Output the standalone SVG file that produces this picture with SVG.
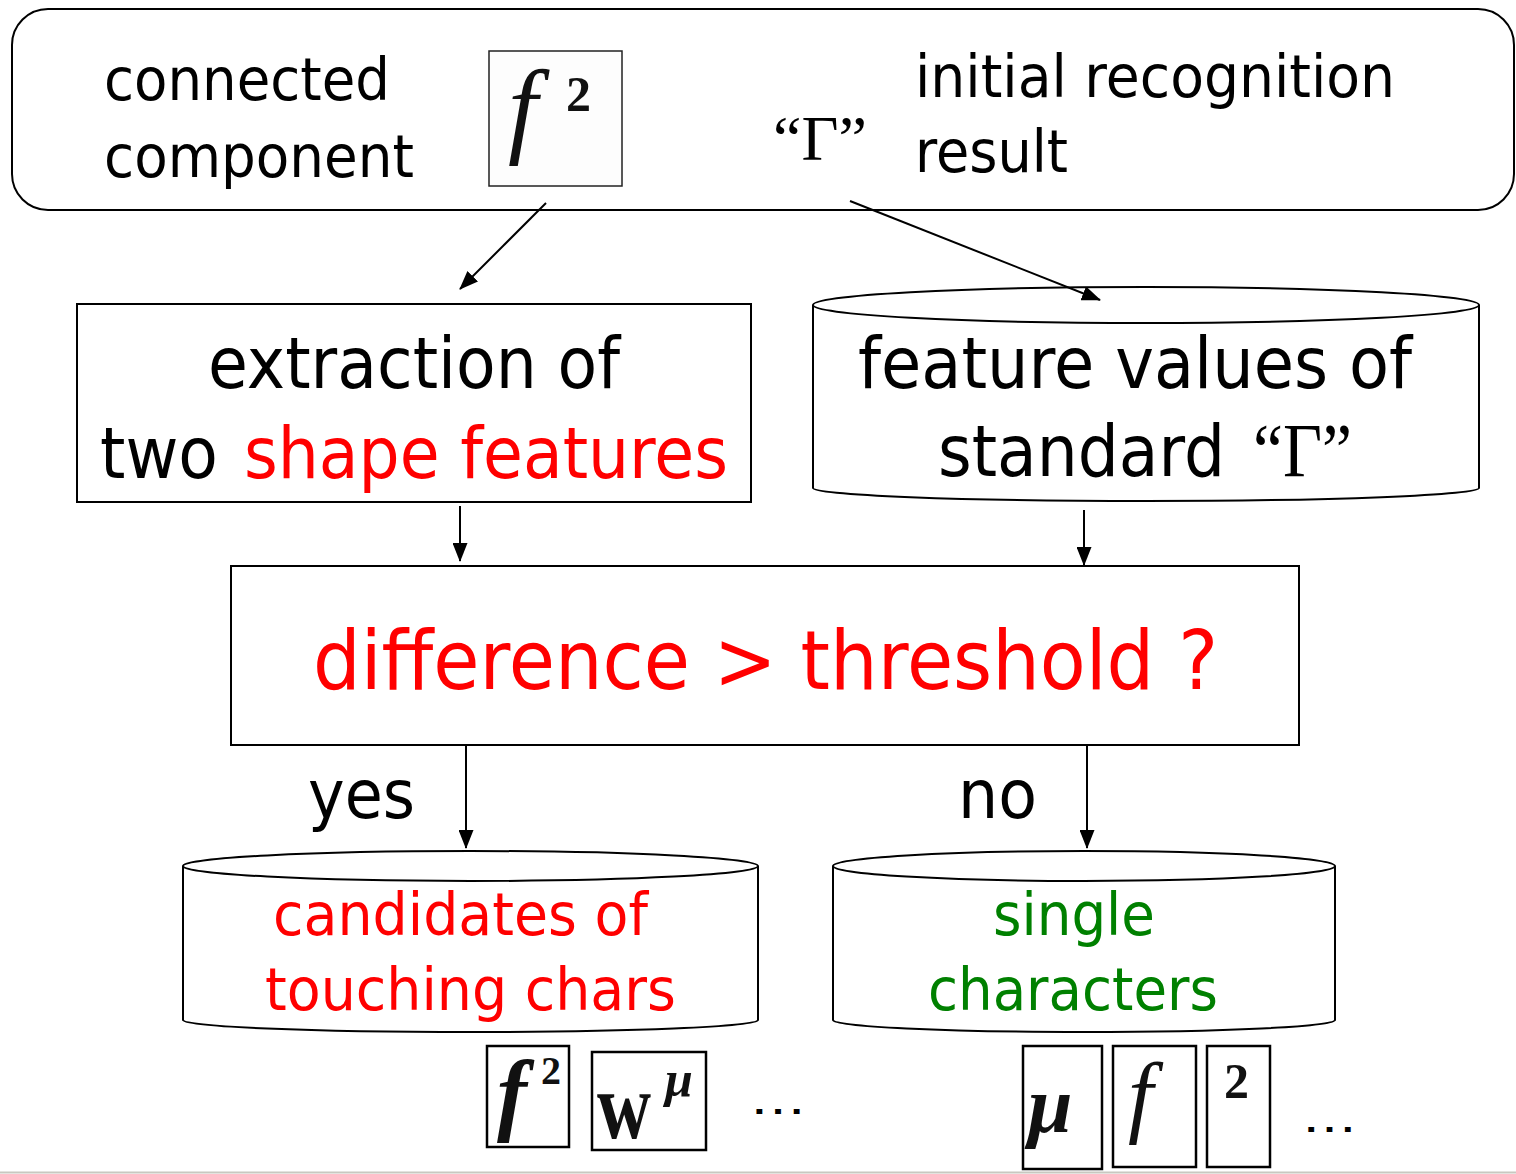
<svg xmlns="http://www.w3.org/2000/svg" width="1516" height="1174" viewBox="0 0 1516 1174">
<defs>
<style>
.box{fill:#fff;stroke:#000;stroke-width:2}
.t{font-family:"DejaVu Sans","Liberation Sans",sans-serif;fill:#000}
.red{fill:#ff0000}
.green{fill:#008000}
.serif{font-family:"Liberation Serif","DejaVu Serif",serif;fill:#000}
.conn{stroke:#000;stroke-width:2;fill:none;marker-end:url(#ah)}
.thumb{fill:#fff;stroke:#000;stroke-width:2.5}
.glyph{font-family:"Liberation Serif","DejaVu Serif",serif;font-style:italic;font-weight:bold;fill:#111}
.thin{font-weight:normal}
.up{font-style:normal}
</style>
<marker id="ah" markerUnits="userSpaceOnUse" markerWidth="19" markerHeight="15" refX="18" refY="7.5" orient="auto">
<path d="M0,0 L19,7.5 L0,15 Z" fill="#000"/>
</marker>
</defs>
<rect width="1516" height="1174" fill="#fff"/>
<line x1="0" y1="1172.5" x2="1516" y2="1172.5" stroke="#c8c8c0" stroke-width="2"/>

<g id="top-box">
<rect class="box" x="12" y="9" width="1502" height="201" rx="36"/>
<text class="t" x="104" y="100" font-size="58" textLength="286" lengthAdjust="spacingAndGlyphs">connected</text>
<text class="t" x="104" y="177" font-size="58" textLength="310" lengthAdjust="spacingAndGlyphs">component</text>
<g id="cc-image">
<rect x="489" y="51" width="133" height="135" fill="#fdfdfd" stroke="#222" stroke-width="1.5"/>
<text class="glyph thin" x="508" y="143" font-size="106" fill="#1a1a1a">f</text>
<text class="glyph up" x="566" y="111" font-size="50" fill="#1a1a1a">2</text>
</g>
<text class="serif" x="773" y="160" font-size="64">“Γ”</text>
<text class="t" x="915" y="97" font-size="58" textLength="480" lengthAdjust="spacingAndGlyphs">initial recognition</text>
<text class="t" x="915" y="172" font-size="58" textLength="153" lengthAdjust="spacingAndGlyphs">result</text>
</g>

<g id="extraction">
<rect class="box" x="77" y="304" width="674" height="198"/>
<text class="t" x="208" y="388" font-size="72" textLength="412" lengthAdjust="spacingAndGlyphs">extraction of</text>
<text class="t" x="100" y="478" font-size="72" textLength="118" lengthAdjust="spacingAndGlyphs">two</text>
<text class="t red" x="244" y="478" font-size="72" textLength="484" lengthAdjust="spacingAndGlyphs">shape features</text>
</g>

<g id="standard-db">
<path class="box" d="M813,305 L813,488 A333,13 0 0 0 1479,488 L1479,305"/>
<ellipse class="box" cx="1146" cy="305" rx="333" ry="18"/>
<text class="t" x="858" y="388" font-size="72" textLength="554" lengthAdjust="spacingAndGlyphs">feature values of</text>
<text class="t" x="938" y="476" font-size="72" textLength="287" lengthAdjust="spacingAndGlyphs">standard</text>
<text class="serif" x="1253" y="476" font-size="76" textLength="99" lengthAdjust="spacingAndGlyphs">“Γ”</text>
</g>

<g id="decision">
<rect class="box" x="231" y="566" width="1068" height="179"/>
<text class="t red" x="313" y="689" font-size="82" textLength="905" lengthAdjust="spacingAndGlyphs" xml:space="preserve">difference &gt; threshold ?</text>
</g>

<g id="touching-db">
<path class="box" d="M183,866 L183,1020 A287.5,12 0 0 0 758,1020 L758,866"/>
<ellipse class="box" cx="470.5" cy="866" rx="287.5" ry="15"/>
<text class="t red" x="273" y="935" font-size="58" textLength="375" lengthAdjust="spacingAndGlyphs">candidates of</text>
<text class="t red" x="265" y="1010" font-size="58" textLength="411" lengthAdjust="spacingAndGlyphs">touching chars</text>
</g>

<g id="single-db">
<path class="box" d="M833,866 L833,1020 A251,12 0 0 0 1335,1020 L1335,866"/>
<ellipse class="box" cx="1084" cy="866" rx="251" ry="15"/>
<text class="t green" x="993" y="935" font-size="58" textLength="162" lengthAdjust="spacingAndGlyphs">single</text>
<text class="t green" x="928" y="1010" font-size="58" textLength="290" lengthAdjust="spacingAndGlyphs">characters</text>
</g>

<g id="labels">
<text class="t" x="308" y="818" font-size="68" textLength="107" lengthAdjust="spacingAndGlyphs">yes</text>
<text class="t" x="958" y="818" font-size="68" textLength="79" lengthAdjust="spacingAndGlyphs">no</text>
</g>

<g id="touching-examples">
<rect class="thumb" x="487" y="1046" width="82" height="101"/>
<text class="glyph" x="497" y="1124" font-size="90">f</text>
<text class="glyph up" x="541" y="1084" font-size="40">2</text>
<rect class="thumb" x="592" y="1052" width="114" height="98"/>
<text class="glyph up" x="597" y="1138" font-size="96" textLength="54" lengthAdjust="spacingAndGlyphs">w</text>
<text class="glyph" x="665" y="1096" font-size="50">μ</text>
<text class="t" x="750" y="1114" font-size="40" textLength="56" lengthAdjust="spacingAndGlyphs">…</text>
</g>

<g id="single-examples">
<rect class="thumb" x="1023" y="1046" width="79" height="123"/>
<text class="glyph" x="1028" y="1132" font-size="80">μ</text>
<rect class="thumb" x="1113" y="1046" width="83" height="121"/>
<text class="glyph thin" x="1128" y="1126" font-size="90">f</text>
<rect class="thumb" x="1207" y="1046" width="63" height="121"/>
<text class="glyph up" x="1224" y="1098" font-size="50">2</text>
<text class="t" x="1302" y="1132" font-size="40" textLength="55" lengthAdjust="spacingAndGlyphs">…</text>
</g>

<g id="connectors">
<line class="conn" x1="546" y1="203" x2="460" y2="289"/>
<line class="conn" x1="850" y1="201" x2="1100" y2="300"/>
<line class="conn" x1="460" y1="506" x2="460" y2="561"/>
<line class="conn" x1="1084" y1="510" x2="1084" y2="565"/>
<line class="conn" x1="466" y1="745" x2="466" y2="848"/>
<line class="conn" x1="1087" y1="745" x2="1087" y2="848"/>
</g>
</svg>
